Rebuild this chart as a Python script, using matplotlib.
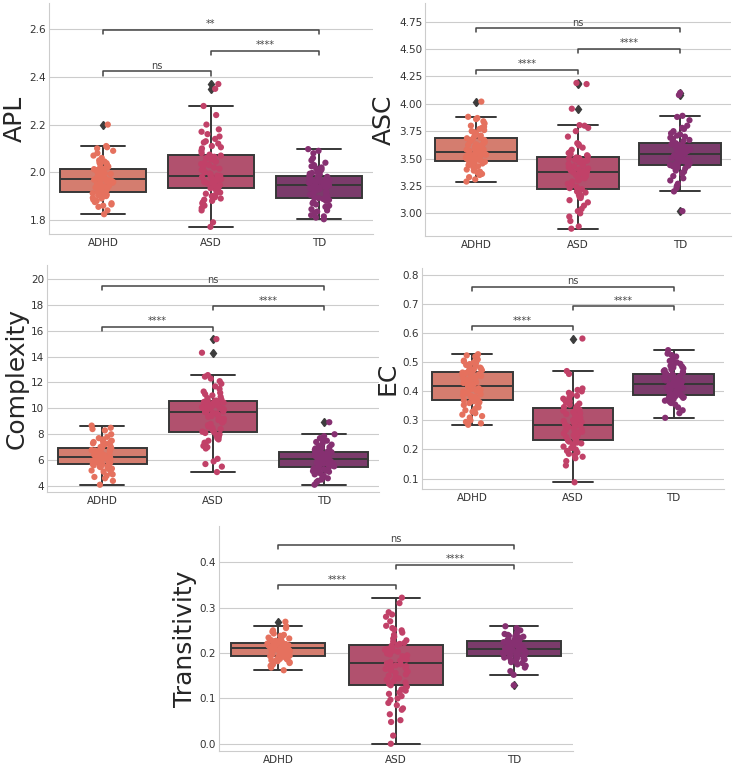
import numpy as np
import pandas as pd
import matplotlib
matplotlib.use("Agg")
import matplotlib.pyplot as plt
import seaborn as sns
from matplotlib.ticker import MultipleLocator

groups = ["ADHD", "ASD", "TD"]

# APL
apl_adhd = [1.824, 1.84, 1.855, 1.86, 1.865, 1.87, 1.875, 1.88, 1.885,
            1.89, 1.893, 1.897, 1.90, 1.903, 1.906, 1.909, 1.912, 1.915,
            1.917, 1.92, 1.924, 1.928, 1.932, 1.936, 1.94, 1.943, 1.946,
            1.95, 1.953, 1.956, 1.959, 1.962, 1.964, 1.966, 1.968, 1.969,
            1.971, 1.973, 1.975, 1.977, 1.98, 1.982, 1.985, 1.988, 1.99,
            1.993, 1.996, 1.998, 2.0, 2.003, 2.006, 2.009, 2.011, 2.013,
            2.015, 2.018, 2.02, 2.024, 2.028, 2.03, 2.034, 2.038, 2.04,
            2.045, 2.05, 2.06, 2.07, 2.08, 2.09, 2.10, 2.105, 2.11, 2.2]
apl_asd = [1.771, 1.79, 1.84, 1.85, 1.86, 1.865, 1.87, 1.875, 1.88,
           1.885, 1.89, 1.895, 1.90, 1.905, 1.91, 1.915, 1.92, 1.927,
           1.933, 1.936, 1.94, 1.943, 1.946, 1.95, 1.953, 1.956, 1.959,
           1.962, 1.965, 1.968, 1.971, 1.974, 1.977, 1.98, 1.982, 1.984,
           1.986, 1.99, 1.995, 2.0, 2.005, 2.01, 2.015, 2.02, 2.025,
           2.03, 2.035, 2.04, 2.045, 2.05, 2.055, 2.06, 2.065, 2.07,
           2.074, 2.08, 2.09, 2.1, 2.105, 2.11, 2.12, 2.125, 2.13,
           2.14, 2.15, 2.16, 2.17, 2.18, 2.2, 2.24, 2.278, 2.35, 2.37]
apl_td = [1.803, 1.81, 1.815, 1.82, 1.83, 1.835, 1.84, 1.845, 1.85,
          1.855, 1.86, 1.865, 1.87, 1.875, 1.88, 1.884, 1.888, 1.891,
          1.894, 1.898, 1.902, 1.906, 1.91, 1.914, 1.918, 1.921, 1.924,
          1.927, 1.93, 1.933, 1.936, 1.938, 1.94, 1.942, 1.944, 1.946,
          1.947, 1.949, 1.951, 1.953, 1.955, 1.957, 1.959, 1.961, 1.963,
          1.965, 1.967, 1.969, 1.971, 1.973, 1.975, 1.978, 1.981, 1.983,
          1.985, 1.988, 1.991, 1.994, 1.997, 2.0, 2.004, 2.008, 2.012,
          2.016, 2.02, 2.025, 2.03, 2.04, 2.05, 2.06, 2.08, 2.09, 2.097]

# ASC
asc_adhd = [3.29, 3.31, 3.33, 3.35, 3.36, 3.37, 3.38, 3.39, 3.40,
            3.41, 3.42, 3.43, 3.44, 3.45, 3.455, 3.46, 3.465, 3.47,
            3.476, 3.48, 3.485, 3.49, 3.495, 3.50, 3.505, 3.51, 3.515,
            3.52, 3.525, 3.53, 3.535, 3.54, 3.545, 3.55, 3.555, 3.56,
            3.564, 3.57, 3.575, 3.58, 3.585, 3.59, 3.60, 3.605, 3.61,
            3.62, 3.625, 3.63, 3.64, 3.65, 3.66, 3.665, 3.67, 3.68,
            3.685, 3.69, 3.70, 3.71, 3.72, 3.73, 3.74, 3.75, 3.76,
            3.77, 3.78, 3.79, 3.80, 3.82, 3.84, 3.86, 3.87, 3.881, 4.02]
asc_asd = [2.86, 2.88, 2.93, 2.97, 3.0, 3.02, 3.04, 3.07, 3.1,
           3.12, 3.14, 3.15, 3.16, 3.17, 3.18, 3.19, 3.2, 3.21,
           3.22, 3.23, 3.24, 3.25, 3.26, 3.27, 3.28, 3.29, 3.3,
           3.31, 3.32, 3.33, 3.34, 3.35, 3.36, 3.365, 3.37, 3.375,
           3.38, 3.385, 3.39, 3.40, 3.41, 3.42, 3.43, 3.44, 3.45,
           3.46, 3.465, 3.47, 3.475, 3.48, 3.49, 3.495, 3.50, 3.505,
           3.51, 3.52, 3.53, 3.54, 3.55, 3.56, 3.58, 3.6, 3.62,
           3.63, 3.64, 3.7, 3.75, 3.78, 3.8, 3.805, 3.955, 4.18, 4.19]
asc_td = [3.02, 3.2, 3.23, 3.25, 3.27, 3.3, 3.32, 3.34, 3.36,
          3.37, 3.38, 3.39, 3.40, 3.41, 3.42, 3.43, 3.435, 3.44,
          3.445, 3.45, 3.455, 3.46, 3.47, 3.475, 3.48, 3.49, 3.495,
          3.50, 3.505, 3.51, 3.515, 3.52, 3.525, 3.53, 3.535, 3.54,
          3.545, 3.55, 3.555, 3.56, 3.565, 3.57, 3.575, 3.58, 3.585,
          3.59, 3.595, 3.60, 3.605, 3.61, 3.615, 3.62, 3.625, 3.63,
          3.64, 3.65, 3.66, 3.67, 3.68, 3.69, 3.70, 3.71, 3.72,
          3.73, 3.75, 3.77, 3.78, 3.8, 3.85, 3.88, 3.89, 4.08, 4.1]

# Complexity
cx_adhd = [4.1, 4.4, 4.6, 4.7, 4.8, 4.9, 5.0, 5.1, 5.2,
           5.3, 5.35, 5.4, 5.45, 5.5, 5.55, 5.6, 5.63, 5.66,
           5.69, 5.72, 5.75, 5.78, 5.81, 5.84, 5.87, 5.9, 5.93,
           5.96, 6.0, 6.03, 6.06, 6.1, 6.14, 6.18, 6.21, 6.24,
           6.26, 6.29, 6.32, 6.35, 6.38, 6.42, 6.46, 6.5, 6.54,
           6.58, 6.62, 6.66, 6.7, 6.74, 6.78, 6.83, 6.88, 6.93,
           6.97, 7.02, 7.08, 7.13, 7.2, 7.25, 7.3, 7.35, 7.4,
           7.45, 7.5, 7.6, 7.7, 7.8, 8.0, 8.3, 8.4, 8.5, 8.67]
cx_asd = [5.08, 5.5, 5.7, 5.9, 6.1, 6.9, 7.0, 7.1, 7.2,
          7.35, 7.5, 7.6, 7.7, 7.8, 7.9, 8.0, 8.1, 8.15,
          8.2, 8.3, 8.4, 8.5, 8.6, 8.7, 8.8, 8.9, 9.0,
          9.1, 9.2, 9.3, 9.35, 9.4, 9.5, 9.55, 9.6, 9.65,
          9.71, 9.75, 9.8, 9.85, 9.9, 9.95, 10.0, 10.05, 10.1,
          10.15, 10.2, 10.25, 10.3, 10.35, 10.4, 10.45, 10.5, 10.54,
          10.57, 10.6, 10.65, 10.7, 10.8, 10.9, 11.0, 11.1, 11.2,
          11.3, 11.5, 11.7, 11.9, 12.1, 12.3, 12.45, 12.57, 14.3, 15.35]
cx_td = [4.1, 4.3, 4.4, 4.5, 4.6, 4.7, 4.8, 4.9, 5.0,
         5.05, 5.1, 5.15, 5.2, 5.25, 5.3, 5.35, 5.38, 5.41,
         5.44, 5.48, 5.52, 5.56, 5.6, 5.64, 5.68, 5.72, 5.76,
         5.8, 5.84, 5.88, 5.92, 5.96, 6.0, 6.03, 6.06, 6.08,
         6.1, 6.13, 6.16, 6.19, 6.22, 6.25, 6.28, 6.31, 6.34,
         6.37, 6.4, 6.43, 6.46, 6.49, 6.52, 6.55, 6.58, 6.6,
         6.62, 6.66, 6.7, 6.75, 6.8, 6.85, 6.9, 6.95, 7.0,
         7.1, 7.2, 7.3, 7.4, 7.5, 7.6, 7.7, 7.85, 8.0, 8.93]

# EC
ec_adhd = [0.285, 0.29, 0.295, 0.30, 0.31, 0.315, 0.32, 0.325, 0.33,
           0.335, 0.34, 0.345, 0.35, 0.353, 0.356, 0.36, 0.363, 0.366,
           0.369, 0.372, 0.375, 0.378, 0.381, 0.384, 0.387, 0.39, 0.393,
           0.396, 0.399, 0.402, 0.405, 0.408, 0.411, 0.414, 0.416, 0.418,
           0.42, 0.423, 0.426, 0.429, 0.432, 0.435, 0.438, 0.441, 0.444,
           0.447, 0.45, 0.453, 0.456, 0.459, 0.461, 0.463, 0.465, 0.467,
           0.468, 0.47, 0.473, 0.476, 0.479, 0.482, 0.485, 0.488, 0.491,
           0.494, 0.497, 0.5, 0.503, 0.506, 0.51, 0.515, 0.52, 0.524, 0.528]
ec_asd = [0.087, 0.145, 0.16, 0.17, 0.175, 0.18, 0.185, 0.19, 0.195,
          0.2, 0.205, 0.21, 0.215, 0.218, 0.221, 0.224, 0.227, 0.229,
          0.231, 0.234, 0.237, 0.24, 0.243, 0.246, 0.249, 0.252, 0.255,
          0.258, 0.261, 0.264, 0.267, 0.27, 0.274, 0.278, 0.281, 0.284,
          0.286, 0.289, 0.292, 0.295, 0.298, 0.301, 0.304, 0.307, 0.31,
          0.313, 0.316, 0.319, 0.322, 0.325, 0.329, 0.333, 0.337, 0.34,
          0.343, 0.346, 0.35, 0.354, 0.358, 0.362, 0.366, 0.37, 0.375,
          0.38, 0.385, 0.39, 0.395, 0.4, 0.405, 0.41, 0.46, 0.47, 0.582]
ec_td = [0.309, 0.325, 0.335, 0.345, 0.355, 0.36, 0.365, 0.368, 0.371,
         0.374, 0.376, 0.378, 0.38, 0.382, 0.384, 0.385, 0.386, 0.388,
         0.389, 0.391, 0.393, 0.395, 0.397, 0.399, 0.401, 0.403, 0.405,
         0.407, 0.409, 0.411, 0.413, 0.415, 0.417, 0.419, 0.421, 0.423,
         0.424, 0.426, 0.428, 0.43, 0.432, 0.434, 0.436, 0.438, 0.44,
         0.442, 0.444, 0.446, 0.448, 0.45, 0.452, 0.454, 0.456, 0.459,
         0.461, 0.464, 0.467, 0.47, 0.473, 0.476, 0.479, 0.482, 0.485,
         0.488, 0.491, 0.495, 0.5, 0.505, 0.51, 0.52, 0.525, 0.53, 0.542]

# Transitivity
tr_adhd = [0.162, 0.168, 0.172, 0.175, 0.178, 0.18, 0.182, 0.184, 0.185,
           0.186, 0.187, 0.188, 0.189, 0.19, 0.191, 0.192, 0.193, 0.1935,
           0.194, 0.195, 0.196, 0.197, 0.198, 0.199, 0.2, 0.201, 0.202,
           0.203, 0.204, 0.205, 0.206, 0.207, 0.2075, 0.208, 0.209, 0.2095,
           0.21, 0.2105, 0.211, 0.212, 0.213, 0.2135, 0.214, 0.215, 0.216,
           0.2165, 0.217, 0.218, 0.219, 0.2195, 0.22, 0.221, 0.222, 0.2225,
           0.223, 0.224, 0.225, 0.226, 0.227, 0.228, 0.229, 0.23, 0.232,
           0.234, 0.236, 0.238, 0.24, 0.243, 0.247, 0.25, 0.255, 0.259, 0.269]
tr_asd = [0.0, 0.018, 0.048, 0.052, 0.065, 0.075, 0.078, 0.085, 0.09,
          0.097, 0.1, 0.105, 0.11, 0.113, 0.117, 0.12, 0.123, 0.126,
          0.129, 0.132, 0.135, 0.138, 0.141, 0.144, 0.147, 0.15, 0.153,
          0.156, 0.159, 0.162, 0.165, 0.167, 0.169, 0.171, 0.173, 0.175,
          0.177, 0.18, 0.183, 0.186, 0.189, 0.191, 0.193, 0.195, 0.197,
          0.199, 0.201, 0.203, 0.205, 0.207, 0.209, 0.211, 0.213, 0.216,
          0.218, 0.22, 0.222, 0.225, 0.228, 0.232, 0.236, 0.24, 0.245,
          0.25, 0.252, 0.255, 0.26, 0.27, 0.28, 0.285, 0.29, 0.31, 0.322]
tr_td = [0.129, 0.152, 0.16, 0.168, 0.172, 0.175, 0.178, 0.18, 0.182,
         0.184, 0.186, 0.187, 0.188, 0.189, 0.19, 0.191, 0.192, 0.193,
         0.194, 0.195, 0.196, 0.197, 0.198, 0.199, 0.2, 0.201, 0.202,
         0.203, 0.204, 0.205, 0.206, 0.2065, 0.207, 0.2075, 0.208, 0.2085,
         0.209, 0.21, 0.211, 0.212, 0.213, 0.214, 0.215, 0.216, 0.217,
         0.218, 0.219, 0.22, 0.221, 0.222, 0.223, 0.224, 0.2245, 0.225,
         0.226, 0.227, 0.228, 0.229, 0.23, 0.231, 0.232, 0.233, 0.234,
         0.235, 0.236, 0.237, 0.238, 0.24, 0.242, 0.244, 0.25, 0.255, 0.259]

# significance labels: ADHD-ASD, ASD-TD, ADHD-TD
sig_apl = ["ns", "****", "**"]
sig_asc = ["****", "****", "ns"]
sig_cx = ["****", "****", "ns"]
sig_ec = ["****", "****", "ns"]
sig_tr = ["****", "****", "ns"]

sns.set_style("whitegrid")
plt.rcParams["font.family"] = ["DejaVu Sans"]
pal = sns.color_palette("flare", 3)
line_col = "#3c3c3c"

np.random.seed(3)

fig = plt.figure(figsize=(7.33, 7.68), dpi=100)


def panel(rect, vals, ylab, sig, ylim, step):
    ax = fig.add_axes(rect)
    df = pd.DataFrame({
        "group": np.repeat(groups, [len(v) for v in vals]),
        "value": np.concatenate(vals),
    })
    sns.boxplot(data=df, x="group", y="value", order=groups, palette=pal,
                linewidth=1.4, fliersize=4.5,
                flierprops=dict(marker="d", markerfacecolor=line_col,
                                markeredgecolor=line_col),
                ax=ax)
    sns.stripplot(data=df, x="group", y="value", order=groups, palette=pal,
                  size=4.5, jitter=True, ax=ax)
    if ax.get_legend() is not None:
        ax.get_legend().remove()

    lo, hi = ylim
    rng = hi - lo
    top = max(max(v) for v in vals)
    pairs = [(0, 1), (1, 2), (0, 2)]
    for k, ((a, b), txt) in enumerate(zip(pairs, sig)):
        y = top + (0.055 + 0.09 * k) * rng
        h = 0.018 * rng
        ax.plot([a, a, b, b], [y - h, y, y, y - h], color="#444444", lw=1.1)
        ax.text((a + b) / 2, y + 0.003 * rng, txt, ha="center", va="bottom",
                fontsize=7, color="#444444")

    ax.set_xlim(-0.5, 2.5)
    ax.set_ylim(lo, hi)
    ax.yaxis.set_major_locator(MultipleLocator(step))
    ax.xaxis.grid(False)
    ax.set_xlabel("")
    ax.set_ylabel(ylab, fontsize=18, color="#262626", labelpad=2)
    ax.tick_params(axis="y", labelsize=7.5, colors="#333333", pad=2, length=0)
    ax.tick_params(axis="x", labelsize=7.5, colors="#333333", pad=3, length=0)
    sns.despine(ax=ax)
    return ax


panel([0.0668, 0.6953, 0.442, 0.3008], [apl_adhd, apl_asd, apl_td], "APL",
      sig_apl, (1.741, 2.71), 0.2)
panel([0.5798, 0.6927, 0.4175, 0.3034], [asc_adhd, asc_asd, asc_td], "ASC",
      sig_asc, (2.793, 4.92), 0.25)
panel([0.0641, 0.3594, 0.453, 0.2956], [cx_adhd, cx_asd, cx_td], "Complexity",
      sig_cx, (3.54, 21.08), 2)
panel([0.5757, 0.3633, 0.412, 0.2878], [ec_adhd, ec_asd, ec_td], "EC",
      sig_ec, (0.064, 0.825), 0.1)
panel([0.2988, 0.0221, 0.483, 0.293], [tr_adhd, tr_asd, tr_td], "Transitivity",
      sig_tr, (-0.016, 0.48), 0.1)

fig.savefig("out.png", dpi=100)
